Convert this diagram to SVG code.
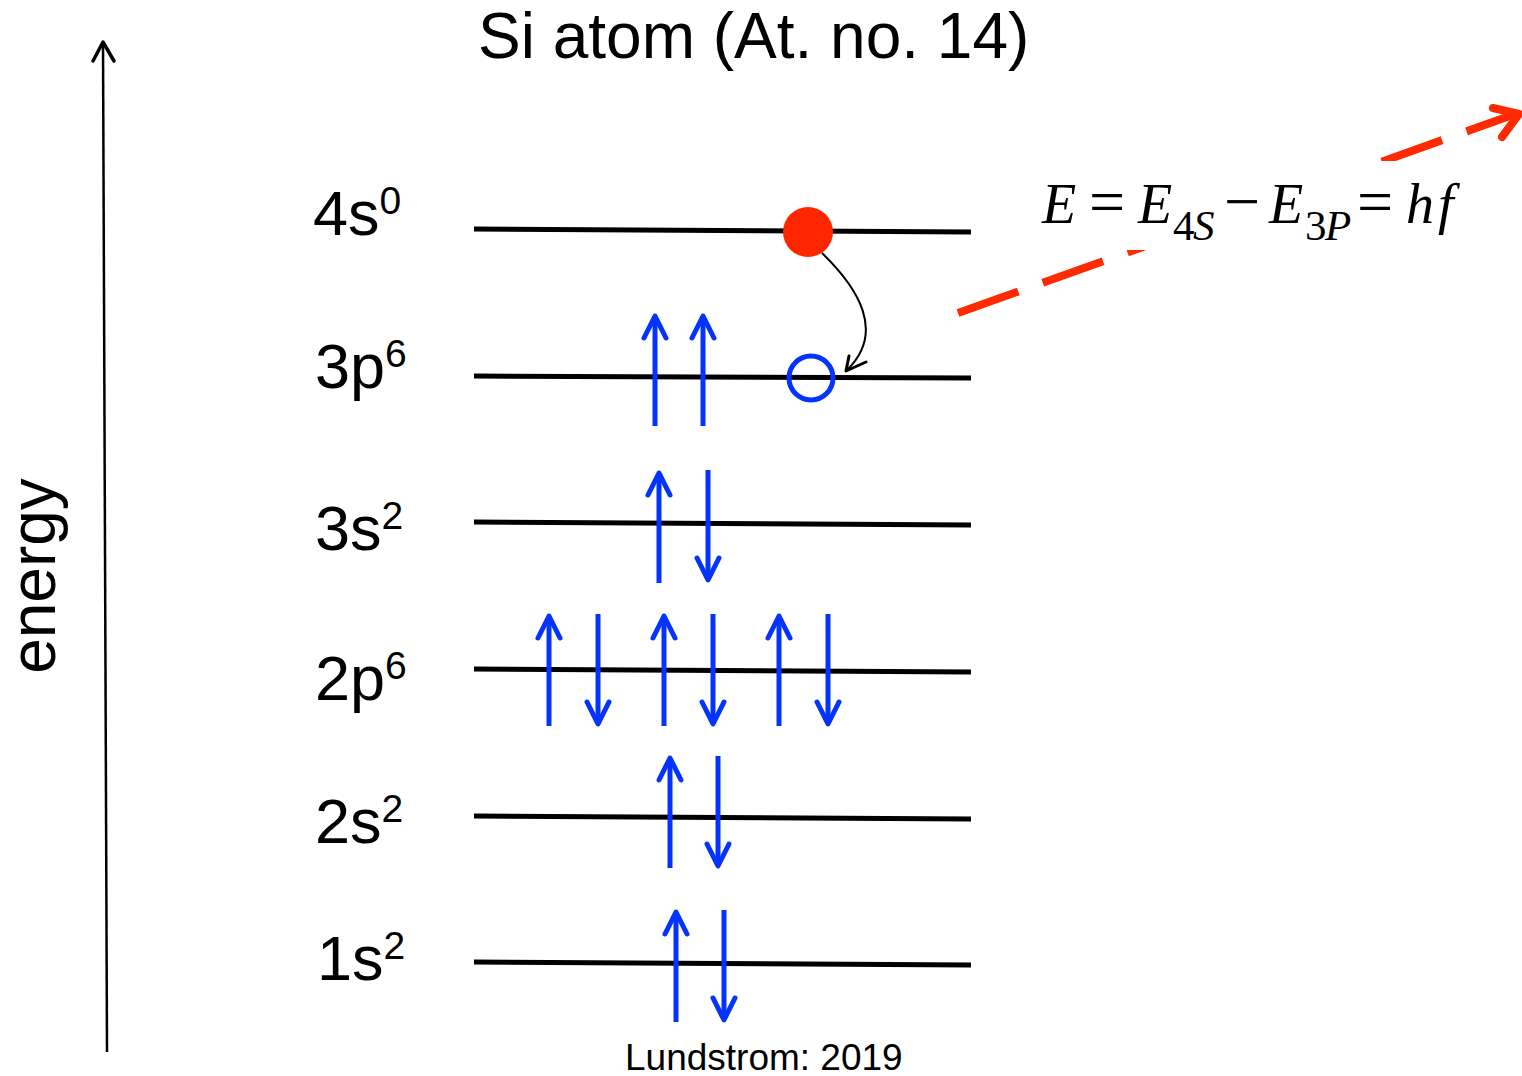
<svg xmlns="http://www.w3.org/2000/svg" width="1522" height="1076" viewBox="0 0 1522 1076">
<style>
.sans{font-family:"Liberation Sans",Arial,sans-serif;fill:#000}
.lbl{font-size:63px}
.sup{font-size:39px}
.lvl{stroke:#000;stroke-width:5;fill:none}
.spin{stroke:#0433ff;stroke-width:5;fill:none;stroke-linecap:butt}
.head{stroke:#0433ff;stroke-width:5;fill:none;stroke-linecap:round;stroke-linejoin:round}
.eq{font-family:"Liberation Serif","Times New Roman",serif;fill:#000}
.it{font-style:italic}
.op{font-size:64px}
</style>
<rect width="1522" height="1076" fill="#fff"/>
<defs>
<g id="up"><line class="spin" x1="0" y1="110" x2="0" y2="2"/><polyline class="head" points="-11,22 0,0 11,22"/></g>
<g id="dn"><line class="spin" x1="0" y1="0" x2="0" y2="108"/><polyline class="head" points="-11,88 0,110 11,88"/></g>
</defs>

<g id="title"><text class="sans" x="478" y="58" font-size="64">Si atom (At. no. 14)</text></g>

<g id="energy-axis">
<line x1="107" y1="1052" x2="103" y2="43" stroke="#000" stroke-width="2.5"/>
<polyline points="93,61 103,42 114,61" fill="none" stroke="#000" stroke-width="3.5" stroke-linecap="round" stroke-linejoin="round"/>
<text class="sans" font-size="64" text-anchor="middle" transform="translate(55,576) rotate(-90)">energy</text>
</g>

<g id="levels">
<g id="level-4s"><line class="lvl" x1="474" y1="229" x2="971" y2="232"/><text class="sans lbl" x="313" y="235">4s<tspan class="sup" dy="-21">0</tspan></text></g>
<g id="level-3p"><line class="lvl" x1="474" y1="376" x2="971" y2="378"/><text class="sans lbl" x="315" y="388">3p<tspan class="sup" dy="-21">6</tspan></text></g>
<g id="level-3s"><line class="lvl" x1="474" y1="522" x2="971" y2="525"/><text class="sans lbl" x="315" y="550">3s<tspan class="sup" dy="-21">2</tspan></text></g>
<g id="level-2p"><line class="lvl" x1="474" y1="669" x2="971" y2="672"/><text class="sans lbl" x="315" y="700">2p<tspan class="sup" dy="-21">6</tspan></text></g>
<g id="level-2s"><line class="lvl" x1="474" y1="816" x2="971" y2="819"/><text class="sans lbl" x="315" y="843">2s<tspan class="sup" dy="-21">2</tspan></text></g>
<g id="level-1s"><line class="lvl" x1="474" y1="962" x2="971" y2="965"/><text class="sans lbl" x="317" y="980">1s<tspan class="sup" dy="-21">2</tspan></text></g>
</g>

<g id="electrons">
<use href="#up" x="655" y="316"/>
<use href="#up" x="703" y="316"/>
<use href="#up" x="659" y="473"/>
<use href="#dn" x="708" y="470"/>
<use href="#up" x="549" y="616"/>
<use href="#dn" x="598" y="614"/>
<use href="#up" x="664" y="616"/>
<use href="#dn" x="713" y="614"/>
<use href="#up" x="779" y="616"/>
<use href="#dn" x="828" y="614"/>
<use href="#up" x="670" y="758"/>
<use href="#dn" x="718" y="756"/>
<use href="#up" x="676" y="912"/>
<use href="#dn" x="724" y="910"/>
</g>

<g id="connectors">
<g id="photon">
<line x1="958" y1="313" x2="1518" y2="113" stroke="#ff2a00" stroke-width="8" stroke-dasharray="64 26"/>
<polyline points="1493,108 1519,114 1502,137" fill="none" stroke="#ff2a00" stroke-width="8" stroke-linecap="round" stroke-linejoin="round"/>
</g>
<g id="transition">
<path d="M822,253 C858,288 886,332 847,370" fill="none" stroke="#000" stroke-width="2"/>
<polyline points="849,356 846,371 866,362" fill="none" stroke="#000" stroke-width="3" stroke-linecap="round" stroke-linejoin="round"/>
</g>
</g>

<g id="electron"><circle cx="808" cy="232" r="25" fill="#ff2600"/></g>
<g id="hole"><circle cx="811" cy="378" r="22" fill="none" stroke="#0433ff" stroke-width="5"/></g>

<g id="equation">
<rect x="1040" y="161" width="425" height="89" fill="#fff"/>
<text class="eq" font-size="56" y="223">
<tspan class="it" x="1042">E</tspan><tspan class="op" x="1089">=</tspan><tspan class="it" x="1138">E</tspan><tspan class="op" x="1224">−</tspan><tspan class="it" x="1269">E</tspan><tspan class="op" x="1357">=</tspan><tspan class="it" x="1406" letter-spacing="4">hf</tspan>
</text>
<text class="eq" font-size="43" y="240">
<tspan x="1173">4</tspan><tspan class="it" x="1193">S</tspan><tspan x="1305">3</tspan><tspan class="it" x="1325">P</tspan>
</text>
</g>

<g id="credit"><text class="sans" x="625" y="1070" font-size="37">Lundstrom: 2019</text></g>
</svg>
